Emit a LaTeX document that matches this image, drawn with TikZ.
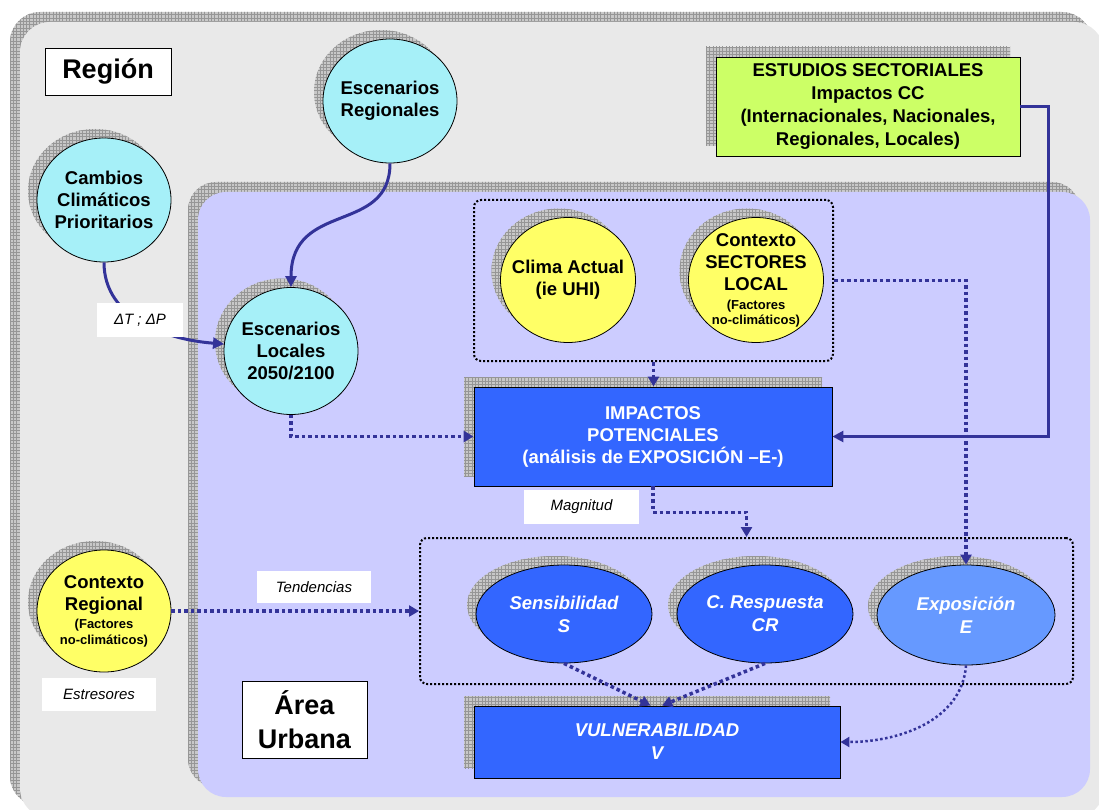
\documentclass[tikz,border=0pt]{standalone}
\usepackage{fontspec}
\setmainfont{Liberation Sans}
\usetikzlibrary{shapes.geometric,shadows,patterns,arrows.meta}

\definecolor{regionbg}{RGB}{233,233,233}
\definecolor{urbanbg}{RGB}{204,204,255}
\definecolor{cyanfill}{RGB}{166,240,248}
\definecolor{yellowfill}{RGB}{255,255,102}
\definecolor{greenfill}{RGB}{204,255,102}
\definecolor{bluefill}{RGB}{51,102,255}
\definecolor{lightblue}{RGB}{102,153,255}
\definecolor{linkcol}{RGB}{51,51,153}
\definecolor{shgray}{RGB}{200,200,200}
\definecolor{shline}{RGB}{150,150,150}

% fine grid used for the hatched drop shadows
\pgfdeclarepatternformonly{shadegrid}{\pgfqpoint{-0.5pt}{-0.5pt}}{\pgfqpoint{3.8pt}{3.8pt}}{\pgfqpoint{3.3pt}{3.3pt}}{%
  \pgfsetlinewidth{0.6pt}%
  \pgfpathmoveto{\pgfqpoint{0pt}{-0.1pt}}\pgfpathlineto{\pgfqpoint{0pt}{3.4pt}}%
  \pgfpathmoveto{\pgfqpoint{-0.1pt}{0pt}}\pgfpathlineto{\pgfqpoint{3.4pt}{0pt}}%
  \pgfusepath{stroke}}

\begin{document}
\begin{tikzpicture}[x=1pt,y=-1pt,
  shadowed/.style={general shadow={fill=shgray,shadow xshift=-#1,shadow yshift=#1},
                   general shadow={pattern=shadegrid,pattern color=shline,shadow xshift=-#1,shadow yshift=#1}},
  shadowed/.default=9pt,
  bubble/.style={ellipse,draw=black,line width=0.8pt,inner sep=0pt,minimum width=134pt,minimum height=124pt,shadowed},
  bubbletext/.style={align=center,inner sep=0pt,font=\bfseries\fontsize{18.5}{22}\selectfont},
  oval/.style={ellipse,draw=black,line width=0.8pt,inner sep=0pt,minimum width=176pt,minimum height=98pt,fill=bluefill,shadowed},
  ovaltext/.style={align=center,inner sep=0pt,text=white,font=\bfseries\itshape\fontsize{18.5}{23}\selectfont},
  panel/.style={rectangle,draw=black,line width=0.9pt,inner sep=0pt,shadowed=10pt,align=center},
  tagbox/.style={rectangle,fill=white,inner sep=0pt,font=\itshape\fontsize{15}{18}\selectfont},
  titlebox/.style={rectangle,draw=black,line width=0.9pt,fill=white,inner sep=0pt,align=center,font=\bfseries\fontsize{27}{34}\selectfont},
  grpbox/.style={rectangle,draw=black,line width=2pt,dash pattern=on 2pt off 2pt,rounded corners=7pt,inner sep=0pt},
  solidlink/.style={draw=linkcol,line width=3pt,-{Triangle[length=11pt,width=11pt]}},
  dotlink/.style={draw=linkcol,line width=3.5pt,dash pattern=on 3.5pt off 3pt,-{Triangle[length=10pt,width=11pt]}},
]
\useasboundingbox (0,0) rectangle (1099,810);
\fill[white] (0,0) rectangle (1099,810);

% regional panel
\fill[shgray,rounded corners=30pt] (10,12) rectangle (1092,806);
\fill[pattern=shadegrid,pattern color=shline,rounded corners=30pt] (10,12) rectangle (1092,806);
\fill[regionbg,rounded corners=30pt] (20,22) rectangle (1104,818);

% urban panel
\fill[shgray,rounded corners=28pt] (188,182) rectangle (1080,787);
\fill[pattern=shadegrid,pattern color=shline,rounded corners=28pt] (188,182) rectangle (1080,787);
\fill[urbanbg,rounded corners=28pt] (198,192) rectangle (1090,797);

% titles
\node[titlebox,minimum width=126pt,minimum height=47pt] (region) at (108,71.5) {Región};
\node[titlebox,minimum width=125pt,minimum height=77pt] (area) at (304.5,719.5) {Área\\Urbana};

% groups
\node[grpbox,minimum width=359pt,minimum height=161pt] (topgrp) at (653.5,280.5) {};
\node[grpbox,minimum width=653pt,minimum height=146pt] (lowgrp) at (746.5,611) {};

% climate scenarios
\node[bubble,fill=cyanfill,label={[bubbletext]center:{Cambios\\Climáticos\\Prioritarios}}] (cambios) at (104,200) {};
\node[bubble,fill=cyanfill,label={[bubbletext]center:{Escenarios\\Regionales}}] (escreg) at (390,101) {};
\node[bubble,fill=cyanfill,minimum height=127pt,label={[bubbletext]center:{Escenarios\\Locales\\2050/2100}}] (escloc) at (291,351) {};

% context factors
\node[bubble,fill=yellowfill,minimum width=135pt,minimum height=125pt,label={[bubbletext]center:{Clima Actual\\(ie UHI)}}] (clima) at (568,280) {};
\node[bubble,fill=yellowfill,minimum width=135pt,minimum height=125pt,label={[bubbletext]center:{Contexto\\SECTORES\\LOCAL\\[-3pt]{\fontsize{13}{15}\selectfont(Factores}\\[-7pt]{\fontsize{13}{15}\selectfont no-climáticos)}}}] (ctxsec) at (756,280) {};
\node[bubble,fill=yellowfill,minimum height=122pt,label={[bubbletext]center:{Contexto\\Regional\\[-4pt]{\fontsize{13}{15}\selectfont(Factores}\\[-6pt]{\fontsize{13}{15}\selectfont no-climáticos)}}}] (ctxreg) at (104,611) {};

% studies and impacts
\node[panel,fill=greenfill,minimum width=304pt,minimum height=99pt,font=\bfseries\fontsize{18.5}{23}\selectfont] (estudios) at (868,106.5)
  {ESTUDIOS SECTORIALES\\Impactos CC\\(Internacionales, Nacionales,\\Regionales, Locales)};
\node[panel,fill=bluefill,text=white,minimum width=358pt,minimum height=99pt,font=\bfseries\fontsize{18.5}{22}\selectfont] (impactos) at (653,436.5)
  {IMPACTOS\\POTENCIALES\\(análisis de EXPOSICIÓN –E-)};

% vulnerability components
\node[oval,label={[ovaltext]center:{Sensibilidad\\S}}] (sens) at (564,614) {};
\node[oval,label={[ovaltext]center:{C. Respuesta\\CR}}] (cresp) at (765,614) {};
\node[oval,fill=lightblue,minimum width=178pt,minimum height=100pt,label={[ovaltext]center:{Exposición\\E}}] (expo) at (966,615) {};
\node[panel,fill=bluefill,text=white,minimum width=366pt,minimum height=72pt,font=\bfseries\itshape\fontsize{18.5}{23}\selectfont] (vuln) at (657,742) {VULNERABILIDAD\\V};

% side tags
\node[tagbox,minimum width=115pt,minimum height=34pt] (magn) at (581.5,507) {Magnitud};
\node[tagbox,minimum width=114pt,minimum height=32pt] (tend) at (314,587) {Tendencias};
\node[tagbox,minimum width=114pt,minimum height=33pt] (estr) at (99,694.5) {Estresores};

% solid links
\draw[solidlink] (escreg.south) .. controls (390,235) and (291,200) .. (escloc.north);
\draw[solidlink] (cambios.south) .. controls (104,320) and (170,340) .. (escloc.174);
\node[tagbox,minimum width=86pt,minimum height=34pt] (dtdp) at (140,320) {ΔT ; ΔP};
\draw[solidlink] (estudios.east) -- ++(28,0) |- (impactos.east);

% dotted links
\draw[dotlink] (topgrp.south) -- (topgrp.south |- impactos.north);
\draw[dotlink] (escloc.south) |- (impactos.west);
\draw[dotlink] (impactos.south) -- ++(0,26) -| (lowgrp.north);
\draw[dotlink] (topgrp.east) -| (expo.north);
\draw[dotlink] (ctxreg.east) -- (lowgrp.west);
\draw[dotlink] (sens.south) -- (vuln.100);
\draw[dotlink] (cresp.south) -- (vuln.82);
\draw[dotlink,line width=2.5pt,dash pattern=on 2.5pt off 2.5pt,-{Triangle[length=9pt,width=10pt]}]
  (expo.south) .. controls (962,720) and (900,742) .. (vuln.east);
\end{tikzpicture}
\end{document}
